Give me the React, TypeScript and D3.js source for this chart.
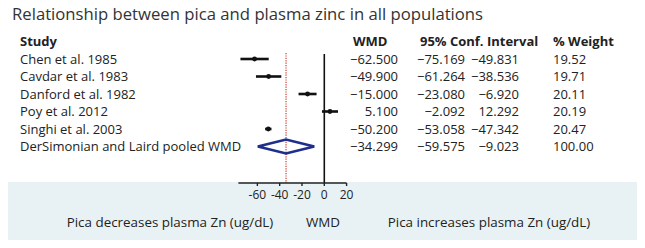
import React from "react";
import * as d3 from "d3";

const studies = ["Chen et al. 1985", "Cavdar et al. 1983", "Danford et al. 1982", "Poy et al. 2012", "Singhi et al. 2003"];
const wmd = [-62.5, -49.9, -15.0, 5.1, -50.2];
const ciLow = [-75.169, -61.264, -23.08, -2.092, -53.058];
const ciHigh = [-49.831, -38.536, -6.92, 12.292, -47.342];
const weights = [19.52, 19.71, 20.11, 20.19, 20.47];
const pooledLabel = "DerSimonian and Laird pooled WMD";
const pooled = { wmd: -34.299, lo: -59.575, hi: -9.023, weight: 100.0 };
const ticks = [-60, -40, -20, 0, 20];

const W = 645;
const H = 248;
const FONT = "'Open Sans', sans-serif";

export default function App() {
  const x = d3.scaleLinear().domain([-77, 20]).range([238.4, 346.6]);
  const rowY = (i: number) => 59 + i * 17.5;
  const axisY = 183;
  const txt = "#222";
  const fs = 13;
  const pooledY = rowY(studies.length);
  const fmt3 = d3.format(".3f");
  const fmt2 = d3.format(".2f");

  const rows = studies.map((s, i) => ({ s, m: wmd[i], lo: ciLow[i], hi: ciHigh[i], w: weights[i] }));

  return (
    <svg width={W} height={H} style={{ position: "absolute", left: 0, top: 0 }} fontFamily={FONT}>
      <rect x={0} y={0} width={W} height={H} fill="#fff" />
      <rect x={8} y={182} width={629} height={58} fill="#e8f2f4" />
      <text x={12} y={20} fontSize={16.7} fill="#333">
        Relationship between pica and plasma zinc in all populations
      </text>
      {/* headers */}
      <g fontSize={fs} fontWeight="bold" fill={txt}>
        <text x={20} y={45.5}>Study</text>
        <text x={353} y={45.5}>WMD</text>
        <text x={420} y={45.5}>95% Conf. Interval</text>
        <text x={553} y={45.5}>% Weight</text>
      </g>
      {/* rows */}
      <g fontSize={fs} fill={txt}>
        {rows.map((r, i) => (
          <g key={r.s}>
            <text x={20} y={rowY(i) + 4.5}>{r.s}</text>
            <text x={398} y={rowY(i) + 4.5} textAnchor="end">{fmt3(r.m)}</text>
            <text x={465} y={rowY(i) + 4.5} textAnchor="end">{fmt3(r.lo)}</text>
            <text x={519} y={rowY(i) + 4.5} textAnchor="end">{fmt3(r.hi)}</text>
            <text x={553} y={rowY(i) + 4.5}>{fmt2(r.w)}</text>
          </g>
        ))}
        <text x={20} y={pooledY + 4.5}>{pooledLabel}</text>
        <text x={398} y={pooledY + 4.5} textAnchor="end">{fmt3(pooled.wmd)}</text>
        <text x={465} y={pooledY + 4.5} textAnchor="end">{fmt3(pooled.lo)}</text>
        <text x={519} y={pooledY + 4.5} textAnchor="end">{fmt3(pooled.hi)}</text>
        <text x={553} y={pooledY + 4.5}>{fmt2(pooled.weight)}</text>
      </g>
      {/* reference lines */}
      <line x1={x(0)} x2={x(0)} y1={54} y2={axisY} stroke="#111" strokeWidth={1.6} />
      <line x1={x(pooled.wmd)} x2={x(pooled.wmd)} y1={53} y2={axisY} stroke="#c8392e" strokeWidth={1.2} strokeDasharray="1.2,1.2" />
      {/* CIs */}
      {rows.map((r, i) => (
        <g key={"ci" + i}>
          <line x1={x(r.lo)} x2={x(r.hi)} y1={rowY(i)} y2={rowY(i)} stroke="#111" strokeWidth={2.6} />
          <circle cx={x(r.m)} cy={rowY(i)} r={2.4} fill="#111" />
        </g>
      ))}
      <polygon
        points={[
          [x(pooled.lo), pooledY],
          [x(pooled.wmd), pooledY - 7],
          [x(pooled.hi), pooledY],
          [x(pooled.wmd), pooledY + 7],
        ].map((p) => p.join(",")).join(" ")}
        fill="none"
        stroke="#1f2d8c"
        strokeWidth={2.6}
      />
      {/* axis */}
      <line x1={x.range()[0]} x2={x.range()[1]} y1={axisY} y2={axisY} stroke="#222" strokeWidth={1.6} />
      {ticks.map((t) => (
        <g key={t}>
          <line x1={x(t)} x2={x(t)} y1={axisY} y2={axisY + 3} stroke="#222" strokeWidth={1.4} />
          <text x={x(t)} y={199} textAnchor="middle" fontSize={12} fill={txt}>{t}</text>
        </g>
      ))}
      <g fontSize={13.4} fill={txt} textAnchor="middle">
        <text x={170} y={227}>Pica decreases plasma Zn (ug/dL)</text>
        <text x={323} y={227}>WMD</text>
        <text x={489} y={227}>Pica increases plasma Zn (ug/dL)</text>
      </g>
    </svg>
  );
}
